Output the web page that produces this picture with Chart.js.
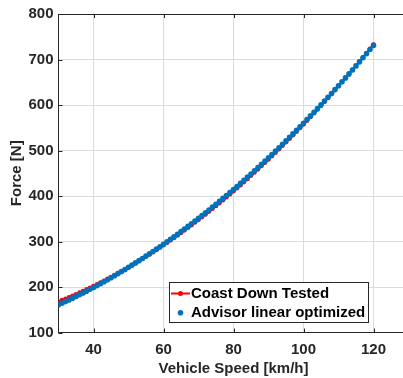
<!DOCTYPE html>
<html>
<head>
<meta charset="utf-8">
<script src="https://cdn.jsdelivr.net/npm/chart.js@4"></script>
<style>
  html, body { margin: 0; padding: 0; background: #fff; overflow: hidden; }
  #wrap { width: 403px; height: 378px; overflow: hidden; position: relative; }
  canvas { display: block; }
</style>
</head>
<body>
<div id="wrap"><canvas id="c" width="420" height="378"></canvas></div>
<script>
// Vehicle speed samples [km/h]
const speeds = [
  30, 31, 32, 33, 34, 35, 36, 37, 38, 39,
  40, 41, 42, 43, 44, 45, 46, 47, 48, 49,
  50, 51, 52, 53, 54, 55, 56, 57, 58, 59,
  60, 61, 62, 63, 64, 65, 66, 67, 68, 69,
  70, 71, 72, 73, 74, 75, 76, 77, 78, 79,
  80, 81, 82, 83, 84, 85, 86, 87, 88, 89,
  90, 91, 92, 93, 94, 95, 96, 97, 98, 99,
  100, 101, 102, 103, 104, 105, 106, 107, 108, 109,
  110, 111, 112, 113, 114, 115, 116, 117, 118, 119,
  120
];

// Road load force from the coast down test [N]
const coastDown = [
  168.0, 171.1, 174.2, 177.5, 180.8, 184.2, 187.6, 191.2, 194.8, 198.4,
  202.2, 206.0, 209.9, 213.8, 217.8, 221.9, 226.1, 230.4, 234.7, 239.0,
  243.5, 248.0, 252.6, 257.3, 262.0, 266.9, 271.7, 276.7, 281.7, 286.8,
  292.0, 297.2, 302.5, 307.9, 313.4, 318.9, 324.5, 330.2, 335.9, 341.7,
  347.6, 353.6, 359.6, 365.7, 371.9, 378.1, 384.4, 390.8, 397.3, 403.8,
  410.4, 417.1, 423.8, 430.6, 437.5, 444.5, 451.5, 458.6, 465.8, 473.0,
  480.3, 487.7, 495.2, 502.7, 510.3, 518.0, 525.7, 533.5, 541.4, 549.4,
  557.4, 565.5, 573.7, 581.9, 590.2, 598.6, 607.1, 615.6, 624.2, 632.9,
  641.6, 650.4, 659.3, 668.3, 677.3, 686.4, 695.6, 704.8, 714.2, 723.5,
  733.0
];

// Road load force from the optimized ADVISOR linear model [N]
const advisorLinear = [
  161.0, 164.5, 168.1, 171.7, 175.4, 179.2, 183.0, 186.9, 190.9, 194.9,
  199.0, 203.1, 207.4, 211.6, 216.0, 220.4, 224.8, 229.4, 234.0, 238.6,
  243.3, 248.1, 253.0, 257.9, 262.8, 267.9, 273.0, 278.1, 283.4, 288.6,
  294.0, 299.4, 304.9, 310.4, 316.0, 321.7, 327.4, 333.2, 339.1, 345.0,
  351.0, 357.0, 363.2, 369.3, 375.6, 381.9, 388.2, 394.7, 401.2, 407.7,
  414.3, 421.0, 427.8, 434.6, 441.4, 448.4, 455.4, 462.4, 469.6, 476.8,
  484.0, 491.3, 498.7, 506.1, 513.6, 521.2, 528.8, 536.5, 544.3, 552.1,
  560.0, 568.0, 576.0, 584.0, 592.2, 600.4, 608.6, 617.0, 625.4, 633.8,
  642.3, 650.9, 659.6, 668.3, 677.0, 685.9, 694.8, 703.7, 712.8, 721.9,
  731.0
];

const seriesNames = ['Coast Down Tested', 'Advisor linear optimized'];
const xTickValues = [40, 60, 80, 100, 120];
const yTickValues = [100, 200, 300, 400, 500, 600, 700, 800];

const RED = '#ff0000';
const BLUE = '#0072bd';
const AXIS = '#262626';
const FONT = '"Liberation Sans", Arial, Helvetica, sans-serif';

const toPoints = (vals) => speeds.map((v, i) => ({ x: v, y: vals[i] }));

// Top frame line, inward tick marks and the in-axes legend
const framePlugin = {
  id: 'frame',
  afterDraw(chart) {
    const { ctx, chartArea: a, scales } = chart;
    const xs = scales.x, ys = scales.y;
    ctx.save();
    ctx.strokeStyle = AXIS;
    ctx.lineWidth = 1;
    ctx.beginPath();
    ctx.moveTo(a.left, a.top + 0.5);
    ctx.lineTo(a.right, a.top + 0.5);
    const len = 4;
    xTickValues.forEach(v => {
      const px = Math.round(xs.getPixelForValue(v)) + 0.5;
      ctx.moveTo(px, a.bottom); ctx.lineTo(px, a.bottom - len);
      ctx.moveTo(px, a.top); ctx.lineTo(px, a.top + len);
    });
    yTickValues.forEach(v => {
      const py = Math.round(ys.getPixelForValue(v)) + 0.5;
      ctx.moveTo(a.left, py); ctx.lineTo(a.left + len, py);
    });
    ctx.stroke();

    // legend
    const bx = 169.5, by = 282.5, bw = 199, bh = 40;
    ctx.fillStyle = '#ffffff';
    ctx.fillRect(bx, by, bw, bh);
    ctx.strokeStyle = AXIS;
    ctx.lineWidth = 1;
    ctx.strokeRect(bx, by, bw, bh);

    const row1 = 293.5, row2 = 312.8, mx = 180.5;
    ctx.strokeStyle = RED;
    ctx.lineWidth = 2;
    ctx.beginPath();
    ctx.moveTo(171, row1); ctx.lineTo(190, row1);
    ctx.stroke();
    ctx.fillStyle = RED;
    ctx.beginPath(); ctx.arc(mx, row1, 2.5, 0, Math.PI * 2); ctx.fill();
    ctx.fillStyle = BLUE;
    ctx.beginPath(); ctx.arc(mx, row2, 2.8, 0, Math.PI * 2); ctx.fill();

    ctx.fillStyle = '#000000';
    ctx.font = 'bold 15px ' + FONT;
    ctx.textBaseline = 'middle';
    ctx.textAlign = 'left';
    ctx.fillText(seriesNames[0], 191, row1 + 0.5);
    ctx.fillText(seriesNames[1], 191, row2 + 0.5);
    ctx.restore();
  }
};

new Chart(document.getElementById('c'), {
  type: 'scatter',
  data: {
    datasets: [
      {
        label: seriesNames[0],
        data: toPoints(coastDown),
        showLine: true,
        borderColor: RED,
        borderWidth: 2,
        backgroundColor: RED,
        pointRadius: 2.3,
        pointBorderWidth: 0,
        order: 1
      },
      {
        label: seriesNames[1],
        data: toPoints(advisorLinear),
        showLine: false,
        borderColor: BLUE,
        backgroundColor: BLUE,
        pointRadius: 2.8,
        pointBorderWidth: 0,
        order: 0
      }
    ]
  },
  options: {
    responsive: false,
    animation: false,
    events: [],
    layout: { padding: { left: 0, top: 14, right: 11.5, bottom: 0 } },
    plugins: { legend: { display: false }, tooltip: { enabled: false } },
    scales: {
      x: {
        type: 'linear',
        min: 30,
        max: 130,
        afterBuildTicks: (s) => { s.ticks = xTickValues.map(v => ({ value: v })); },
        afterFit: (s) => { s.height = 45.5; },
        grid: { color: '#dcdcdc', lineWidth: 1, drawTicks: false },
        border: { color: AXIS, width: 1 },
        ticks: { color: AXIS, font: { family: FONT, size: 15, weight: 'bold' }, padding: 8, maxRotation: 0 },
        title: {
          display: true,
          text: 'Vehicle Speed [km/h]',
          color: AXIS,
          font: { family: FONT, size: 15, weight: 'bold' },
          padding: { top: 1, bottom: 0 }
        }
      },
      y: {
        min: 100,
        max: 800,
        afterBuildTicks: (s) => { s.ticks = yTickValues.map(v => ({ value: v })); },
        afterFit: (s) => { s.width = 58.5; },
        grid: { color: '#dcdcdc', lineWidth: 1, drawTicks: false },
        border: { color: AXIS, width: 1 },
        ticks: { color: AXIS, font: { family: FONT, size: 15, weight: 'bold' }, padding: 5 },
        title: {
          display: true,
          text: 'Force [N]',
          color: AXIS,
          font: { family: FONT, size: 15, weight: 'bold' },
          padding: { top: 8, bottom: 0 }
        }
      }
    }
  },
  plugins: [framePlugin]
});
</script>
</body>
</html>
